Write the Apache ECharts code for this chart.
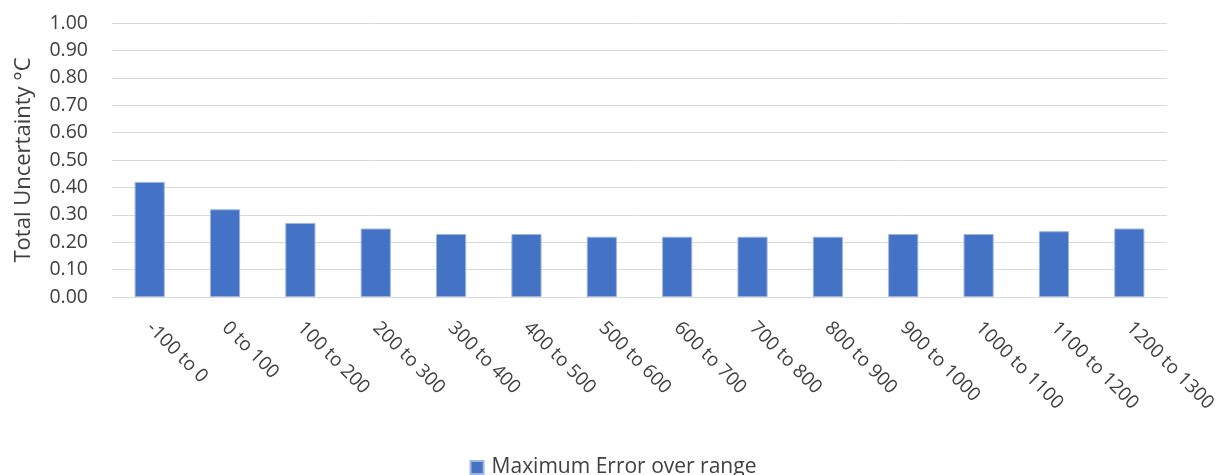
<!DOCTYPE html>
<html>
<head>
<meta charset="utf-8">
<script src="https://cdn.jsdelivr.net/npm/echarts@6/dist/echarts.min.js"></script>
<style>
html,body{margin:0;padding:0;background:#fff;}
#chart{width:1226px;height:475px;}
</style>
</head>
<body>
<div id="chart"></div>
<script>
const categories = ['-100 to 0','0 to 100','100 to 200','200 to 300','300 to 400','400 to 500','500 to 600','600 to 700','700 to 800','800 to 900','900 to 1000','1000 to 1100','1100 to 1200','1200 to 1300'];
const maxError = [0.42,0.32,0.27,0.25,0.23,0.23,0.22,0.22,0.22,0.22,0.23,0.23,0.24,0.25];
const seriesName = 'Maximum Error over range';
const yAxisTitle = 'Total Uncertainty °C';

const FONT = '"Open Sans", "Liberation Sans", Arial, sans-serif';
const TXT = '#404040';
const chart = echarts.init(document.getElementById('chart'));
chart.setOption({
  animation: false,
  textStyle: {fontFamily: FONT},
  grid: {left: 112, right: 59, top: 23, bottom: 178, containLabel: false},
  legend: {
    data: [seriesName],
    left: 'center',
    top: 452,
    itemWidth: 13,
    itemHeight: 13,
    itemGap: 8,
    icon: 'rect',
    textStyle: {fontFamily: FONT, fontSize: 21, color: TXT, padding: [0, 0, 0, 3]}
  },
  xAxis: {
    type: 'category',
    data: categories,
    axisLine: {lineStyle: {color: '#d9d9d9', width: 1}},
    axisTick: {show: false},
    axisLabel: {rotate: -45, fontSize: 19, color: TXT, margin: 28, interval: 0, fontFamily: FONT}
  },
  yAxis: {
    type: 'value',
    min: 0, max: 1, interval: 0.1,
    name: yAxisTitle,
    nameLocation: 'middle',
    nameGap: 77,
    nameRotate: 90,
    nameTextStyle: {fontSize: 22, color: TXT, fontFamily: FONT},
    axisLine: {show: false},
    axisTick: {show: false},
    axisLabel: {fontSize: 19.5, color: TXT, margin: 24, formatter: v => v.toFixed(2), fontFamily: FONT},
    splitLine: {lineStyle: {color: '#d9d9d9', width: 1}}
  },
  series: [{
    name: seriesName,
    type: 'bar',
    data: maxError,
    barWidth: '40%',
    itemStyle: {color: '#4472C4', borderColor: '#9DB5E0', borderWidth: 1}
  }]
});
</script>
</body>
</html>
